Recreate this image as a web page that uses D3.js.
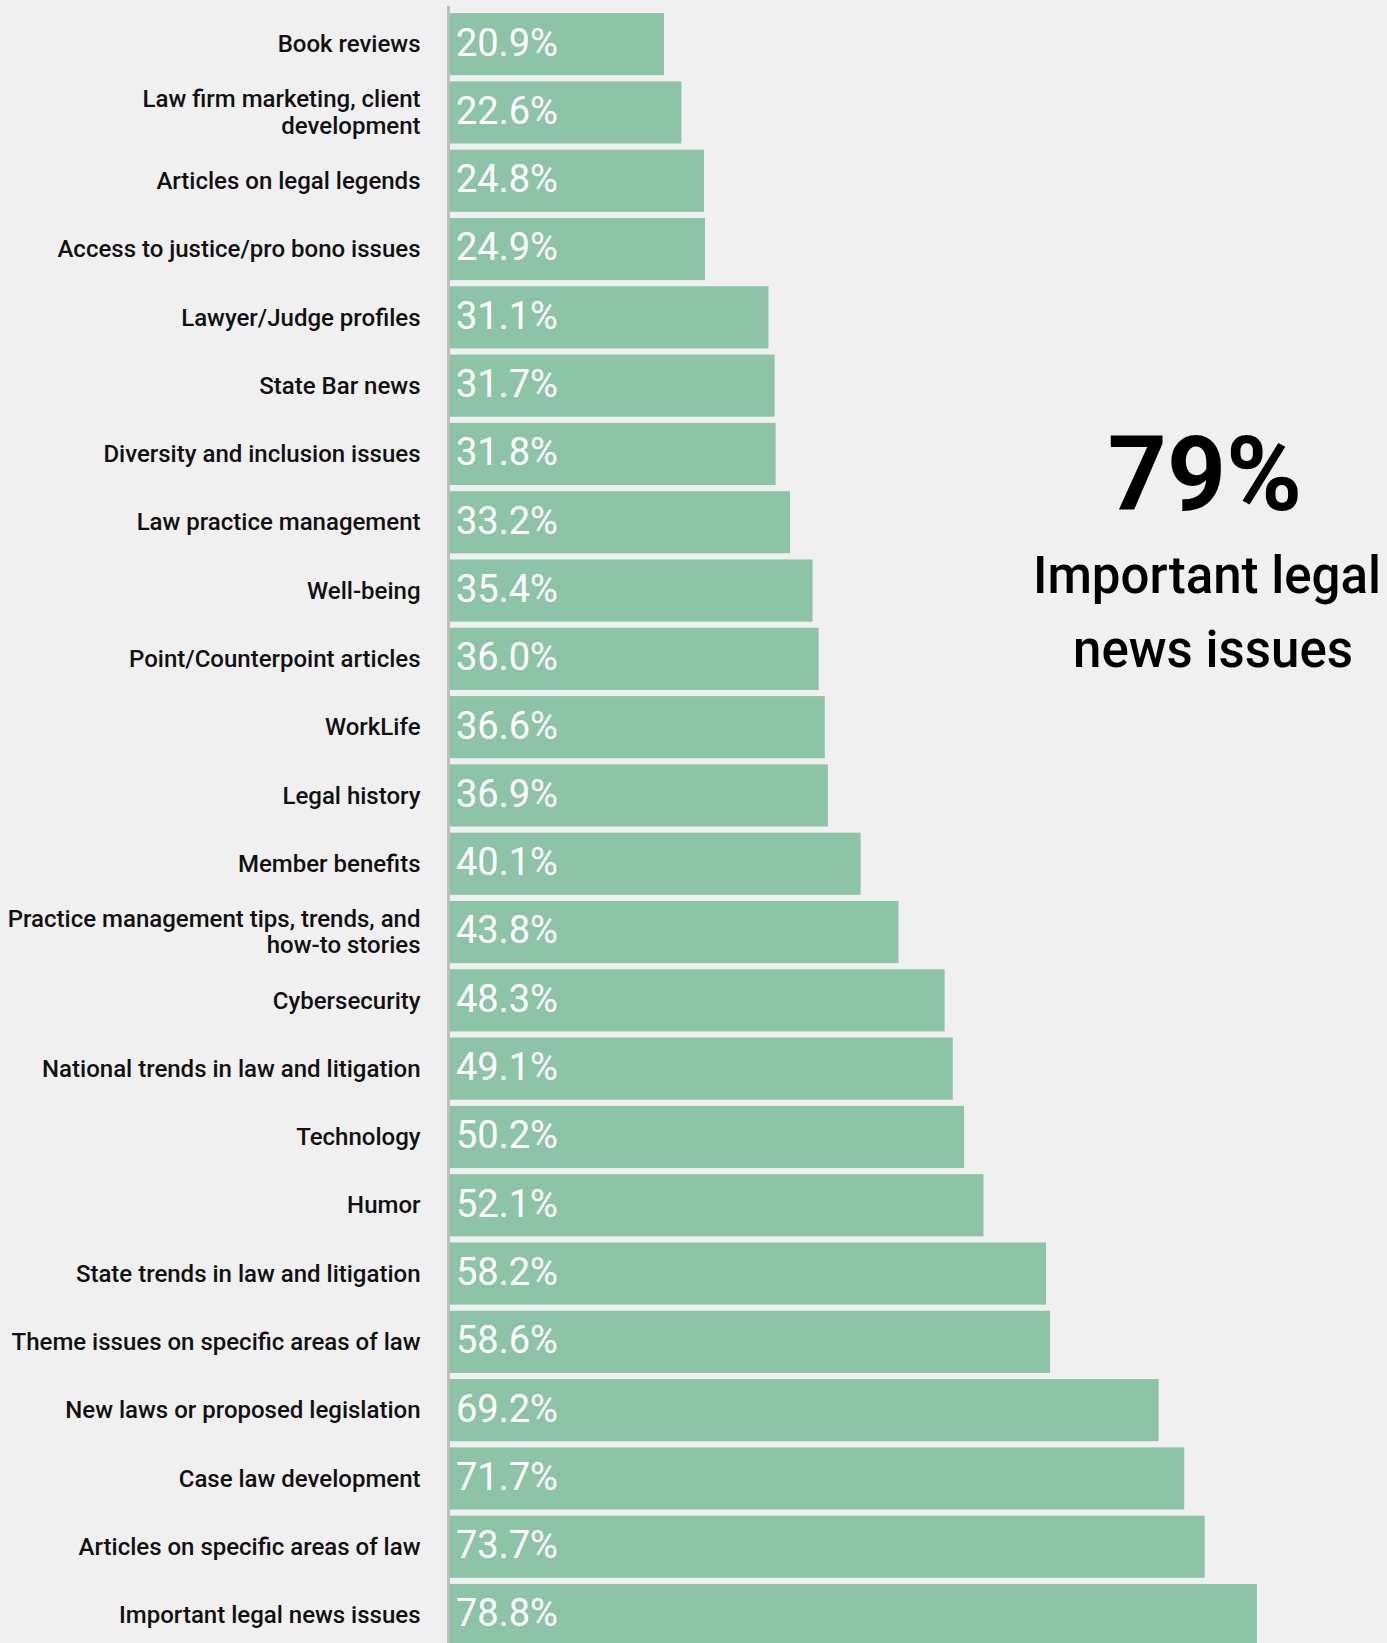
<!DOCTYPE html>
<html>
<head>
<meta charset="utf-8">
<script src="https://cdn.jsdelivr.net/npm/d3@7"></script>
<style>
  body { margin: 0; background: #f0f0f0; }
  svg { display: block; font-family: Roboto, "Noto Sans", sans-serif; }
  .axis .domain { stroke: #bdbdbd; stroke-width: 3; }
  .axis text { fill: #111; font-family: Roboto, "Noto Sans", sans-serif; font-size: 24px; font-weight: 500; }
</style>
</head>
<body>
<svg id="chart" width="1387" height="1643"></svg>
<script>
// categories, top to bottom ("\n" marks a line break in the label)
var categories = [
    "Book reviews",
    "Law firm marketing, client\ndevelopment",
    "Articles on legal legends",
    "Access to justice/pro bono issues",
    "Lawyer/Judge profiles",
    "State Bar news",
    "Diversity and inclusion issues",
    "Law practice management",
    "Well-being",
    "Point/Counterpoint articles",
    "WorkLife",
    "Legal history",
    "Member benefits",
    "Practice management tips, trends, and\nhow-to stories",
    "Cybersecurity",
    "National trends in law and litigation",
    "Technology",
    "Humor",
    "State trends in law and litigation",
    "Theme issues on specific areas of law",
    "New laws or proposed legislation",
    "Case law development",
    "Articles on specific areas of law",
    "Important legal news issues"
];
var values = [20.9, 22.6, 24.8, 24.9, 31.1, 31.7, 31.8, 33.2, 35.4, 36.0, 36.6, 36.9,
    40.1, 43.8, 48.3, 49.1, 50.2, 52.1, 58.2, 58.6, 69.2, 71.7, 73.7, 78.8];
var headline = "79%";
var headlineLines = ["Important legal", "news issues"];

var data = categories.map((c, i) => ({ name: c, value: values[i] }));

const svg = d3.select('#chart');
const left = 450;

var x = d3.scaleLinear().domain([0, 100]).range([left, left + 1024]);
var y = d3.scaleBand()
    .domain(data.map(d => d.name))
    .range([10, 10 + 24 * 68.3])
    .paddingInner(0.09)
    .paddingOuter(0.045);

// bars
svg.append('g')
    .selectAll('rect')
    .data(data)
    .enter().append('rect')
    .attr('x', x(0))
    .attr('y', d => y(d.name))
    .attr('width', d => x(d.value) - x(0))
    .attr('height', y.bandwidth())
    .attr('fill', '#8dc3a7');

// value labels inside bars
svg.append('g')
    .selectAll('text')
    .data(data)
    .enter().append('text')
    .attr('x', x(0) + 6)
    .attr('y', d => y(d.name) + y.bandwidth() / 2)
    .attr('dy', '0.3em')
    .attr('fill', '#fff')
    .style('font-size', '38px')
    .text(d => d.value.toFixed(1) + '%');

// category axis
var yAxis = svg.append('g')
    .attr('class', 'axis')
    .attr('transform', 'translate(' + (left - 1.5) + ',0)')
    .call(d3.axisLeft(y).tickSize(0).tickPadding(28));
yAxis.select('.domain').attr('d', 'M0,6V1643');

yAxis.selectAll('.tick text').each(function(d) {
    var t = d3.select(this);
    var lines = d.split('\n');
    t.text(null).attr('dy', null);
    lines.forEach((ln, i) => {
        t.append('tspan')
            .attr('x', -28)
            .attr('dy', i === 0 ? (0.34 - (lines.length - 1) * 0.55) + 'em' : '1.1em')
            .text(ln);
    });
});

// headline
var hl = svg.append('g').attr('text-anchor', 'middle').attr('fill', '#000');
hl.append('text')
    .attr('x', 1205)
    .attr('y', 510)
    .style('font-size', '103px')
    .style('font-weight', 700)
    .text(headline);
hl.selectAll('.sub')
    .data(headlineLines)
    .enter().append('text')
    .attr('class', 'sub')
    .attr('x', (d, i) => 1207 + i * 6)
    .attr('y', (d, i) => 593 + i * 74)
    .style('font-size', '51px')
    .style('font-weight', 500)
    .text(d => d);
</script>
</body>
</html>
